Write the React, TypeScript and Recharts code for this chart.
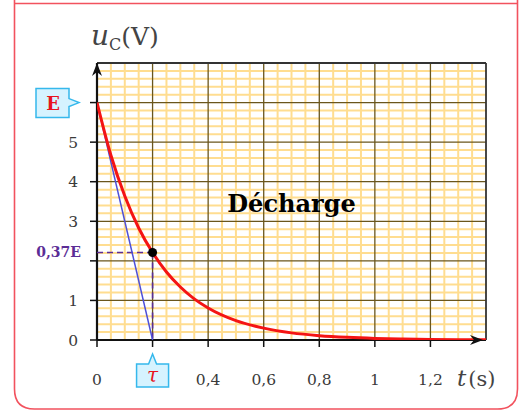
import React from 'react';
import {
  ComposedChart,
  Line,
  XAxis,
  YAxis,
  ReferenceLine,
  ReferenceDot,
  Customized,
} from 'recharts';

// t (s) and u_C (V)
const times = [0, 0.05, 0.1, 0.15, 0.2, 0.25, 0.3, 0.35, 0.4, 0.5, 0.6, 0.7, 0.8, 0.9, 1.0, 1.1, 1.2, 1.3, 1.4];
const voltages = [6, 4.67, 3.64, 2.83, 2.21, 1.72, 1.34, 1.04, 0.81, 0.49, 0.3, 0.18, 0.11, 0.067, 0.04, 0.025, 0.015, 0.009, 0.005];
const tangentT = [0, 0.2];
const tangentU = [6, 0];
const xTicks = [0, 0.2, 0.4, 0.6, 0.8, 1, 1.2];
const xTickLabels = ['0', 'τ', '0,4', '0,6', '0,8', '1', '1,2'];
const yTicks = [0, 1, 2, 3, 4, 5, 6];
const yTickLabels = ['0', '1', '', '3', '4', '5', 'E'];
const tau = 0.2;
const u37 = 2.21;

const curve = times.map((t, i) => ({ t, u: voltages[i] }));
const tangent = tangentT.map((t, i) => ({ t, u: tangentU[i] }));

const SERIF = '"DejaVu Serif", "Liberation Serif", serif';
const X_MAX = 1.4;
const Y_MAX = 7;

// minor grid every 0.05 s and 0.2 V, major every 0.2 s and 1 V
const minorX: number[] = [];
for (let i = 1; i < 28; i++) if (i % 4 !== 0) minorX.push(+(i * 0.05).toFixed(2));
const minorY: number[] = [];
for (let i = 1; i < 35; i++) if (i % 5 !== 0) minorY.push(+(i * 0.2).toFixed(1));
const majorX = [0.2, 0.4, 0.6, 0.8, 1, 1.2];
const majorY = [1, 2, 3, 4, 5, 6];

const XTick = (props: any) => {
  const { x, y, payload } = props;
  const label = xTickLabels[xTicks.indexOf(payload.value)];
  if (label === 'τ') {
    return (
      <g>
        <path
          d={`M${x - 16},${y + 15} L${x - 4},${y + 15} L${x},${y + 5} L${x + 4},${y + 15} L${x + 16},${y + 15} L${x + 16},${y + 38} L${x - 16},${y + 38} Z`}
          fill="#d6f3ff"
          stroke="#35b8ec"
          strokeWidth={1.5}
        />
        <text x={x} y={y + 33} textAnchor="middle" fill="#e8141e" fontFamily={SERIF} fontStyle="italic" fontSize={20}>
          τ
        </text>
      </g>
    );
  }
  return (
    <text x={x} y={y + 36} textAnchor="middle" fill="#3a3a3a" fontFamily={SERIF} fontSize={15.5}>
      {label}
    </text>
  );
};

const YTick = (props: any) => {
  const { x, y, payload } = props;
  const label = yTickLabels[yTicks.indexOf(payload.value)];
  if (label === 'E') {
    return (
      <g>
        <path
          d={`M${x - 52},${y - 14} L${x - 19},${y - 14} L${x - 19},${y - 4} L${x - 9},${y} L${x - 19},${y + 4} L${x - 19},${y + 15} L${x - 52},${y + 15} Z`}
          fill="#d6f3ff"
          stroke="#35b8ec"
          strokeWidth={1.5}
        />
        <text x={x - 35} y={y + 7} textAnchor="middle" fill="#e8141e" fontFamily={SERIF} fontWeight="bold" fontSize={18}>
          E
        </text>
      </g>
    );
  }
  if (!label) return <g />;
  return (
    <text x={x - 10} y={y} dy="0.36em" textAnchor="end" fill="#3a3a3a" fontFamily={SERIF} fontSize={15.5}>
      {label}
    </text>
  );
};

const UpArrow = (props: any) => {
  const { cx, cy } = props;
  return <path d={`M${cx},${cy} L${cx + 5},${cy + 13} L${cx},${cy + 9} L${cx - 5},${cy + 13} Z`} fill="#111" />;
};

const RightArrow = (props: any) => {
  const { cx, cy } = props;
  return <path d={`M${cx - 3},${cy} L${cx - 16},${cy - 5} L${cx - 12},${cy} L${cx - 16},${cy + 5} Z`} fill="#111" />;
};

const Texts = () => (
  <g>
    <text x={91} y={45} fill="#444" fontFamily={SERIF}>
      <tspan fontStyle="italic" fontSize={28}>u</tspan>
      <tspan fontSize={16} dy={5}>C</tspan>
      <tspan fontSize={25} dy={-5}>(V)</tspan>
    </text>
    <text x={457} y={386} fill="#444" fontFamily={SERIF}>
      <tspan fontStyle="italic" fontSize={23}>t</tspan>
      <tspan fontSize={21} dx={2}>(s)</tspan>
    </text>
    <text x={81} y={257} textAnchor="end" fill="#5b2d96" fontFamily={SERIF} fontWeight="bold" fontSize={14}>
      0,37E
    </text>
  </g>
);

export default function App() {
  return (
    <div style={{ position: 'absolute', left: 0, top: 0, width: 524, height: 410, background: '#fff' }}>
      <svg width={524} height={410} style={{ position: 'absolute', left: 0, top: 0 }}>
        <path
          d="M14.5,0 L14.5,389 Q14.5,409 34.5,409 L497.5,409 Q517.5,409 517.5,389 L517.5,0"
          fill="none"
          stroke="#f2525e"
          strokeWidth={1.6}
        />
        <line x1={14} y1={3.5} x2={518} y2={3.5} stroke="#f2525e" strokeWidth={1.6} />
      </svg>
      <div style={{ position: 'absolute', left: 0, top: 0 }}>
        <ComposedChart width={524} height={410} margin={{ top: 63, right: 38, bottom: 0, left: 0 }}>
          <XAxis
            type="number"
            dataKey="t"
            domain={[0, X_MAX]}
            ticks={xTicks}
            tick={<XTick />}
            tickSize={7}
            tickLine={{ stroke: '#111', strokeWidth: 1.5 }}
            axisLine={false}
            height={70}
            allowDataOverflow
          />
          <YAxis
            type="number"
            dataKey="u"
            domain={[0, Y_MAX]}
            ticks={yTicks}
            tick={<YTick />}
            tickSize={7}
            tickLine={{ stroke: '#111', strokeWidth: 1.5 }}
            axisLine={false}
            width={97}
            allowDataOverflow
          />
          {minorX.map((v) => (
            <ReferenceLine key={`mx${v}`} x={v} stroke="#ffdd90" strokeWidth={2} />
          ))}
          {minorY.map((v) => (
            <ReferenceLine key={`my${v}`} y={v} stroke="#ffdd90" strokeWidth={2} />
          ))}
          {majorX.map((v) => (
            <ReferenceLine key={`Mx${v}`} x={v} stroke="#6a561c" strokeWidth={1.3} />
          ))}
          {majorY.map((v) => (
            <ReferenceLine key={`My${v}`} y={v} stroke="#6a561c" strokeWidth={1.3} />
          ))}
          <ReferenceLine x={X_MAX} stroke="#333" strokeWidth={1.8} />
          <ReferenceLine y={Y_MAX} stroke="#333" strokeWidth={1.8} />
          <ReferenceLine x={0} stroke="#111" strokeWidth={2.2} />
          <ReferenceLine y={0} stroke="#111" strokeWidth={2.2} />
          <ReferenceLine
            segment={[{ x: 0, y: u37 }, { x: tau, y: u37 }]}
            stroke="#5b2d96"
            strokeWidth={1.6}
            strokeDasharray="6 4"
          />
          <ReferenceLine
            segment={[{ x: tau, y: u37 }, { x: tau, y: 0 }]}
            stroke="#5b2d96"
            strokeWidth={1.6}
            strokeDasharray="6 4"
          />
          <Line
            data={tangent}
            dataKey="u"
            type="linear"
            stroke="#4d4fd8"
            strokeWidth={1.5}
            dot={false}
            isAnimationActive={false}
          />
          <Line
            data={curve}
            dataKey="u"
            type="monotone"
            stroke="#f41414"
            strokeWidth={3}
            dot={false}
            isAnimationActive={false}
          />
          <ReferenceDot x={tau} y={u37} r={4.5} fill="#000" stroke="none" />
          <ReferenceDot x={0} y={Y_MAX} shape={<UpArrow />} />
          <ReferenceDot x={X_MAX} y={0} shape={<RightArrow />} />
          <ReferenceDot
            x={0.7}
            y={3.45}
            r={0}
            label={{ value: 'Décharge', fill: '#000', fontFamily: SERIF, fontWeight: 'bold', fontSize: 24, position: 'center' }}
          />
          <Customized component={Texts} />
        </ComposedChart>
      </div>
    </div>
  );
}
